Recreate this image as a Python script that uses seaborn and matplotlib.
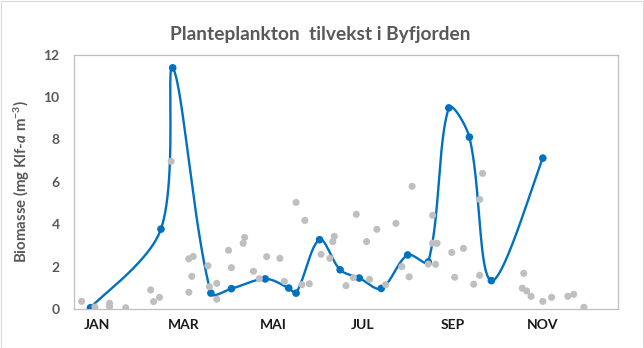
import numpy as np
import pandas as pd
import matplotlib
matplotlib.use("Agg")
import matplotlib.pyplot as plt
from matplotlib.patches import Rectangle
import seaborn as sns

# ---------------- data ----------------
# main series (day of year, biomass)
blue_day = [11, 59, 67, 93, 107, 130, 146, 151, 167, 181, 194, 209, 227, 241, 255, 269, 284, 319]
blue_val = [0.06, 3.77, 11.38, 0.75, 0.96, 1.42, 0.99, 0.75, 3.27, 1.85, 1.46, 0.97, 2.55, 2.22,
            9.49, 8.11, 1.34, 7.12]

# background observations (day of year, biomass)
gray_day = [5, 14, 24, 24, 35, 52, 54, 58, 66, 78, 81, 80, 78, 91, 92, 97, 97, 105, 107, 115,
            116, 122, 126, 131, 140, 143, 151, 155, 157, 160, 168, 174, 176, 177, 185, 190,
            192, 199, 201, 206, 212, 219, 223, 228, 230, 241, 244, 244, 247, 246, 257, 265,
            259, 278, 276, 276, 272, 306, 305, 308, 311, 319, 325, 336, 340, 347]
gray_val = [0.36, 0.09, 0.27, 0.11, 0.06, 0.90, 0.35, 0.55, 6.97, 2.37, 2.48, 1.54, 0.79, 2.04,
            1.05, 1.21, 0.46, 2.77, 1.95, 3.10, 3.38, 1.78, 1.43, 2.47, 2.39, 1.30, 5.03, 1.15,
            4.18, 1.19, 2.58, 2.39, 3.18, 3.43, 1.10, 1.48, 4.47, 3.18, 1.40, 3.76, 1.15, 4.04,
            2.00, 1.52, 5.79, 2.12, 4.42, 3.10, 3.10, 2.11, 2.67, 2.86, 1.50, 6.40, 5.17, 1.59,
            1.17, 1.68, 0.98, 0.85, 0.60, 0.36, 0.55, 0.60, 0.69, 0.08]

month_start = [0, 31, 59, 90, 120, 151, 181, 212, 243, 273, 304, 334, 365]
month_labels = ["JAN", "MAR", "MAI", "JUL", "SEP", "NOV"]
label_months = [0, 2, 4, 6, 8, 10]

title = "Planteplankton  tilvekst i Byfjorden"

# ---------------- layout ----------------
W, H = 644, 348
AX_L, AX_R, AX_T, AX_B = 74.3, 617.7, 54.7, 309.0
XMAX, YMAX = 370.0, 12.0
SX = (AX_R - AX_L) / XMAX      # px per day
SY = (AX_B - AX_T) / YMAX      # px per unit

# ---------------- smoothing (Excel-like Bezier, segment-length weighted) ----------------
def smooth(xs, ys, n=80):
    P = np.column_stack([np.asarray(xs, float) * SX, np.asarray(ys, float) * SY])
    out = []
    for i in range(len(P) - 1):
        p0 = P[i - 1] if i > 0 else P[i]
        p1, p2 = P[i], P[i + 1]
        p3 = P[i + 2] if i + 2 < len(P) else P[i + 1]
        d01 = np.linalg.norm(p1 - p0)
        d12 = np.linalg.norm(p2 - p1)
        d23 = np.linalg.norm(p3 - p2)
        f1 = d12 / (d01 + d12) / 3.0 if d01 + d12 > 0 else 0
        f2 = d12 / (d12 + d23) / 3.0 if d12 + d23 > 0 else 0
        if i == 0:
            f1 = 1 / 6.0
        if i + 2 >= len(P):
            f2 = 1 / 6.0
        c1 = p1 + (p2 - p0) * f1
        c2 = p2 - (p3 - p1) * f2
        t = np.linspace(0, 1, n)[:, None]
        seg = ((1 - t) ** 3) * p1 + 3 * ((1 - t) ** 2) * t * c1 + 3 * (1 - t) * t ** 2 * c2 + t ** 3 * p2
        out.append(seg if i == 0 else seg[1:])
    C = np.vstack(out)
    return C[:, 0] / SX, C[:, 1] / SY

cx, cy = smooth(blue_day, blue_val)
df_curve = pd.DataFrame({"x": cx, "y": cy})
df_blue = pd.DataFrame({"x": blue_day, "y": blue_val})
df_gray = pd.DataFrame({"x": gray_day, "y": gray_val})

# ---------------- style ----------------
sns.set_theme(style="white")
plt.rcParams["font.family"] = ["Lato", "DejaVu Sans"]
plt.rcParams["mathtext.fontset"] = "custom"
plt.rcParams["mathtext.rm"] = "Lato:bold"
plt.rcParams["mathtext.bf"] = "Lato:bold"
plt.rcParams["mathtext.it"] = "Lato:bold:italic"

BLUE = "#0070C0"
GRAY = "#BFBFBF"
FRAME = "#BFBFBF"
TXT = "#595959"

fig = plt.figure(figsize=(W / 100, H / 100), dpi=100)
ax = fig.add_axes([AX_L / W, 1 - AX_B / H, (AX_R - AX_L) / W, (AX_B - AX_T) / H])

sns.lineplot(data=df_curve, x="x", y="y", sort=False, estimator=None, color=BLUE,
             linewidth=1.7, ax=ax, zorder=3)
sns.scatterplot(data=df_blue, x="x", y="y", color=BLUE, s=30, edgecolor="none", ax=ax, zorder=4)
sns.scatterplot(data=df_gray, x="x", y="y", color=GRAY, s=26, edgecolor="none", ax=ax, zorder=5)

ax.set_xlim(0, XMAX)
ax.set_ylim(0, YMAX)
ax.set_yticks(np.arange(0, 13, 2))
ax.set_yticklabels([str(v) for v in range(0, 13, 2)], fontsize=10, fontweight="bold", color=TXT)

ax.set_xticks(month_start)
ax.set_xticklabels([])
mids = [(month_start[m] + month_start[m + 1]) / 2 for m in label_months]
ax.set_xticks(mids, minor=True)
ax.set_xticklabels(month_labels, minor=True, fontsize=10, fontweight="bold", color="#1a1a1a")
ax.tick_params(axis="x", which="major", direction="out", length=4, width=0.8, color=FRAME)
ax.tick_params(axis="x", which="minor", length=0, pad=7)
ax.tick_params(axis="y", direction="out", length=4, width=0.8, color=FRAME, pad=6.5)

for s in ax.spines.values():
    s.set_visible(True)
    s.set_color(FRAME)
    s.set_linewidth(0.9)

ax.set_xlabel("")
ax.set_ylabel(r"Biomasse (mg Klf-$a$ m$^{-3}$)", fontsize=10.8, fontweight="bold",
              color=TXT, labelpad=8)
ax.grid(False)

fig.suptitle(title, x=0.497, y=0.925, fontsize=13.8, fontweight="bold", color=TXT)

fig.patches.append(Rectangle((0.5 / W, 0.5 / H), 642.5 / W, 346.5 / H,
                             transform=fig.transFigure, fill=False, edgecolor="#D9D9D9",
                             linewidth=0.8))

fig.savefig("out.png", dpi=100)
